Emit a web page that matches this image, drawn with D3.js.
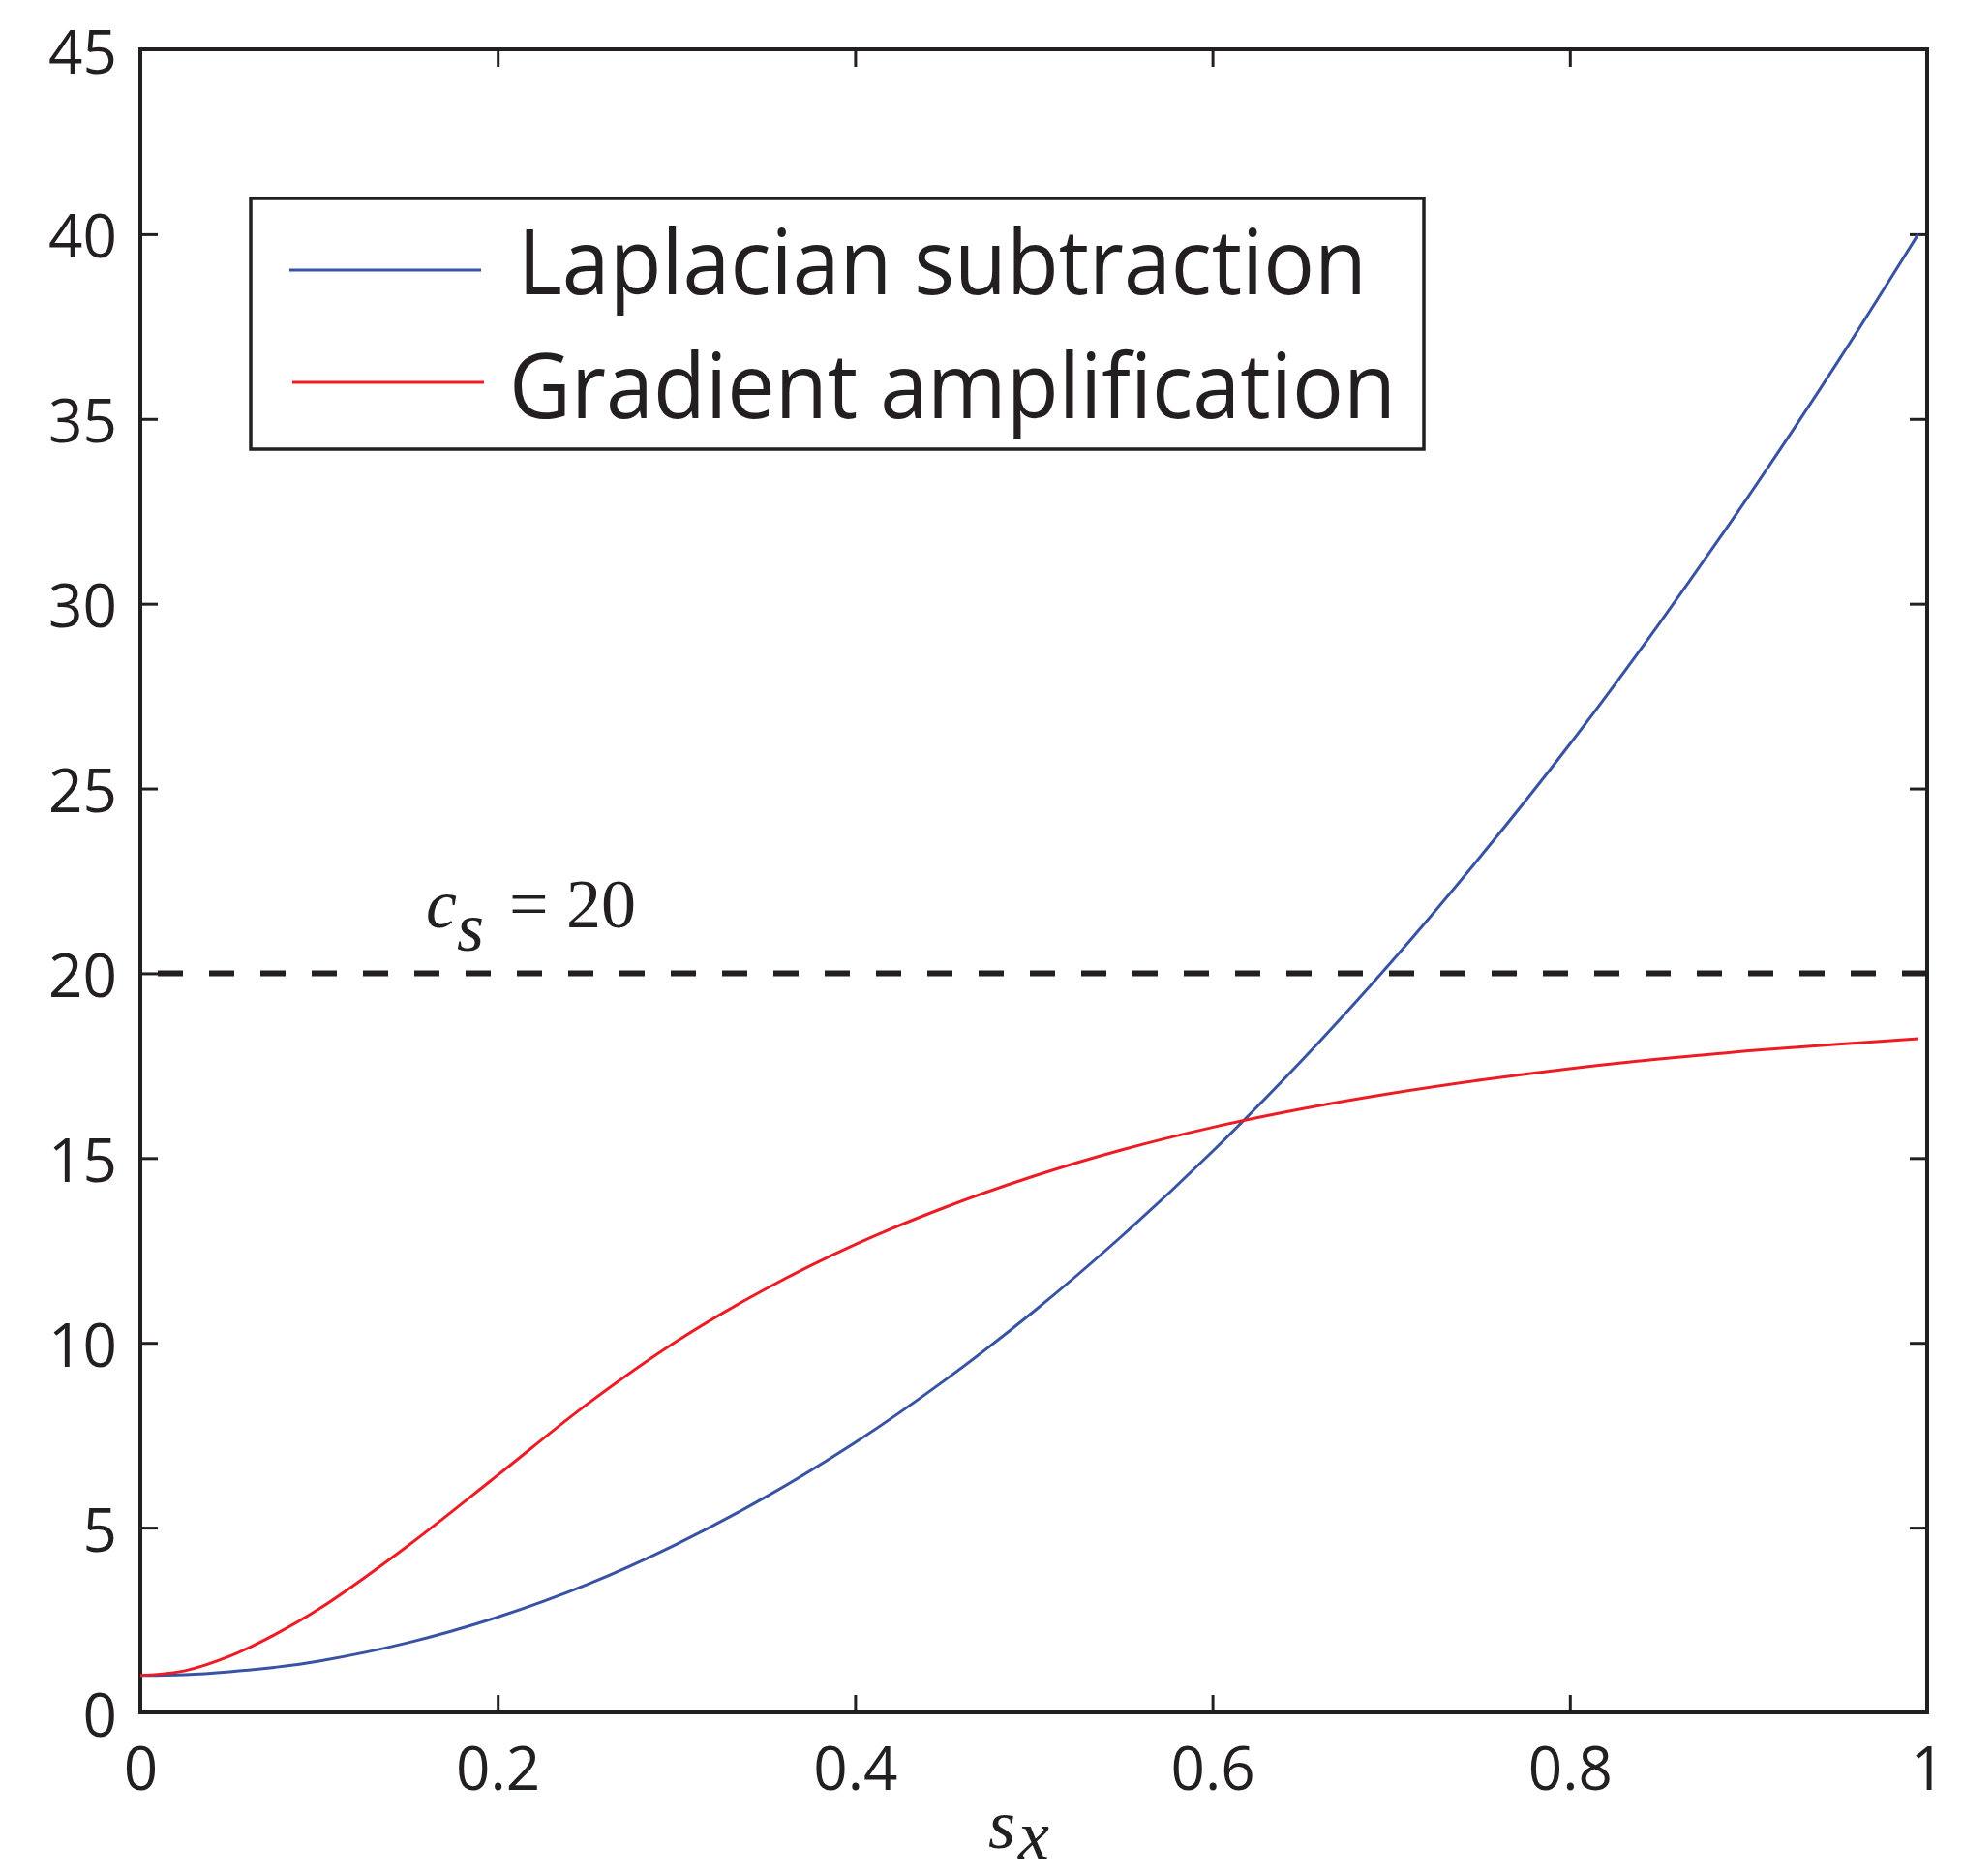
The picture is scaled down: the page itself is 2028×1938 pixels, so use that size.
<!DOCTYPE html>
<html lang="en">
<head>
  <meta charset="UTF-8">
  <title>Laplacian subtraction vs Gradient amplification</title>
  <script src="https://d3js.org/d3.v7.min.js"></script>
  <style>
    body {
      margin: 0;
      background-color: #ffffff;
    }

    .tick text {
      font-family: "Open Sans", sans-serif;
      font-size: 62px;
      fill: #231f20;
    }

    .tick line {
      stroke: #231f20;
      stroke-width: 3px;
    }

    .legend-text {
      font-family: "Open Sans", sans-serif;
      font-size: 94px;
      fill: #231f20;
    }

    .math {
      font-family: "Liberation Serif", "Times New Roman", serif;
      font-size: 72px;
      fill: #231f20;
    }
  </style>
</head>
<body>
  <svg width="2028" height="1938"></svg>
  <script>
    // Values
    const sValues = [0, 0.025, 0.05, 0.075, 0.1, 0.15, 0.2, 0.25, 0.3, 0.35, 0.4, 0.45, 0.5,
      0.55, 0.6, 0.65, 0.7, 0.75, 0.8, 0.85, 0.9, 0.95, 0.995];
    const laplacian = [1.0, 1.02, 1.1, 1.22, 1.39, 1.89, 2.58, 3.46, 4.55, 5.83, 7.3, 8.98, 10.85,
      12.92, 15.18, 17.64, 20.3, 23.16, 26.2, 29.46, 32.91, 36.55, 40.0];
    const gradient = [1.0, 1.13, 1.52, 2.1, 2.8, 4.52, 6.42, 8.34, 10.04, 11.46, 12.66, 13.66, 14.51,
      15.23, 15.83, 16.33, 16.75, 17.11, 17.42, 17.68, 17.9, 18.08, 18.23];
    const threshold = 20;
    const xTicks = [0, 0.2, 0.4, 0.6, 0.8, 1];
    const yTicks = [0, 5, 10, 15, 20, 25, 30, 35, 40, 45];
    const seriesNames = ["Laplacian subtraction", "Gradient amplification"];
    const seriesColors = ["#3953a4", "#ed1c24"];

    // Plot frame
    const margin = { top: 51, right: 37, bottom: 169, left: 145 };
    const W = 2028, H = 1938;
    const width = W - margin.left - margin.right;
    const height = H - margin.top - margin.bottom;
    const ink = "#231f20";
    const tickLen = 18;

    const svg = d3.select("svg");

    const x = d3.scaleLinear().domain([0, 1]).range([margin.left, margin.left + width]);
    const y = d3.scaleLinear().domain([0, 45]).range([margin.top + height, margin.top]);

    // Bottom axis with labels
    const xAxis = svg.append("g")
      .attr("transform", `translate(0,${y(0)})`)
      .call(d3.axisBottom(x).tickValues(xTicks).tickSizeInner(-tickLen).tickSizeOuter(0)
        .tickFormat(d => d === 0 || d === 1 ? d3.format("d")(d) : d3.format(".1f")(d)));
    xAxis.select(".domain").remove();
    xAxis.selectAll("text").attr("y", 80).attr("dy", 0);

    // Left axis with labels
    const yAxis = svg.append("g")
      .attr("transform", `translate(${x(0)},0)`)
      .call(d3.axisLeft(y).tickValues(yTicks).tickSizeInner(-tickLen).tickSizeOuter(0));
    yAxis.select(".domain").remove();
    yAxis.selectAll("text").attr("x", -24).attr("dy", 24);

    // Mirror ticks on top and right
    const topAxis = svg.append("g")
      .attr("transform", `translate(0,${y(45)})`)
      .call(d3.axisTop(x).tickValues(xTicks).tickSizeInner(-tickLen).tickSizeOuter(0).tickFormat(""));
    topAxis.select(".domain").remove();

    const rightAxis = svg.append("g")
      .attr("transform", `translate(${x(1)},0)`)
      .call(d3.axisRight(y).tickValues(yTicks).tickSizeInner(-tickLen).tickSizeOuter(0).tickFormat(""));
    rightAxis.select(".domain").remove();

    // Box
    svg.append("rect")
      .attr("x", x(0))
      .attr("y", y(45))
      .attr("width", x(1) - x(0))
      .attr("height", y(0) - y(45))
      .attr("fill", "none")
      .attr("stroke", ink)
      .attr("stroke-width", 4);

    // Threshold line
    svg.append("line")
      .attr("x1", x(0))
      .attr("x2", x(1))
      .attr("y1", y(threshold))
      .attr("y2", y(threshold))
      .attr("stroke", ink)
      .attr("stroke-width", 6)
      .attr("stroke-dasharray", "26 27")
      .attr("stroke-dashoffset", 35);

    // c_s = 20 label
    const cy = y(threshold) - 47;
    svg.append("text").attr("class", "math").attr("x", 440).attr("y", cy)
      .style("font-style", "italic").text("c");
    svg.append("text").attr("class", "math").attr("x", 472).attr("y", cy + 24)
      .style("font-style", "italic").text("s");
    svg.append("text").attr("class", "math").attr("x", 526).attr("y", cy).text("=");
    svg.append("text").attr("class", "math").attr("x", 585).attr("y", cy).text("20");

    // Curves
    const line = d3.line()
      .x(d => x(d[0]))
      .y(d => y(d[1]))
      .curve(d3.curveCatmullRom.alpha(0.5));

    [laplacian, gradient].forEach((vals, i) => {
      svg.append("path")
        .datum(sValues.map((s, j) => [s, vals[j]]))
        .attr("fill", "none")
        .attr("stroke", seriesColors[i])
        .attr("stroke-width", 3)
        .attr("d", line);
    });

    // x axis label s_x
    svg.append("text").attr("class", "math").attr("x", 1021).attr("y", 1909)
      .style("font-style", "italic").text("s");
    svg.append("text").attr("class", "math").attr("x", 1052).attr("y", 1920)
      .style("font-style", "italic").text("x");

    // Legend
    const legend = svg.append("g");
    legend.append("rect")
      .attr("x", 259)
      .attr("y", 205)
      .attr("width", 1471 - 259)
      .attr("height", 464 - 205)
      .attr("fill", "#ffffff")
      .attr("stroke", ink)
      .attr("stroke-width", 3.5);

    const legendRows = [
      { lineX: 299, lineY: 279, textX: 535, textY: 304, textW: 877 },
      { lineX: 302, lineY: 395, textX: 526, textY: 432, textW: 916 }
    ];

    legendRows.forEach((r, i) => {
      legend.append("line")
        .attr("x1", r.lineX)
        .attr("x2", r.lineX + 198)
        .attr("y1", r.lineY)
        .attr("y2", r.lineY)
        .attr("stroke", seriesColors[i])
        .attr("stroke-width", 3);
      legend.append("text")
        .attr("class", "legend-text")
        .attr("x", r.textX)
        .attr("y", r.textY)
        .attr("textLength", r.textW)
        .attr("lengthAdjust", "spacingAndGlyphs")
        .text(seriesNames[i]);
    });
  </script>
</body>
</html>
